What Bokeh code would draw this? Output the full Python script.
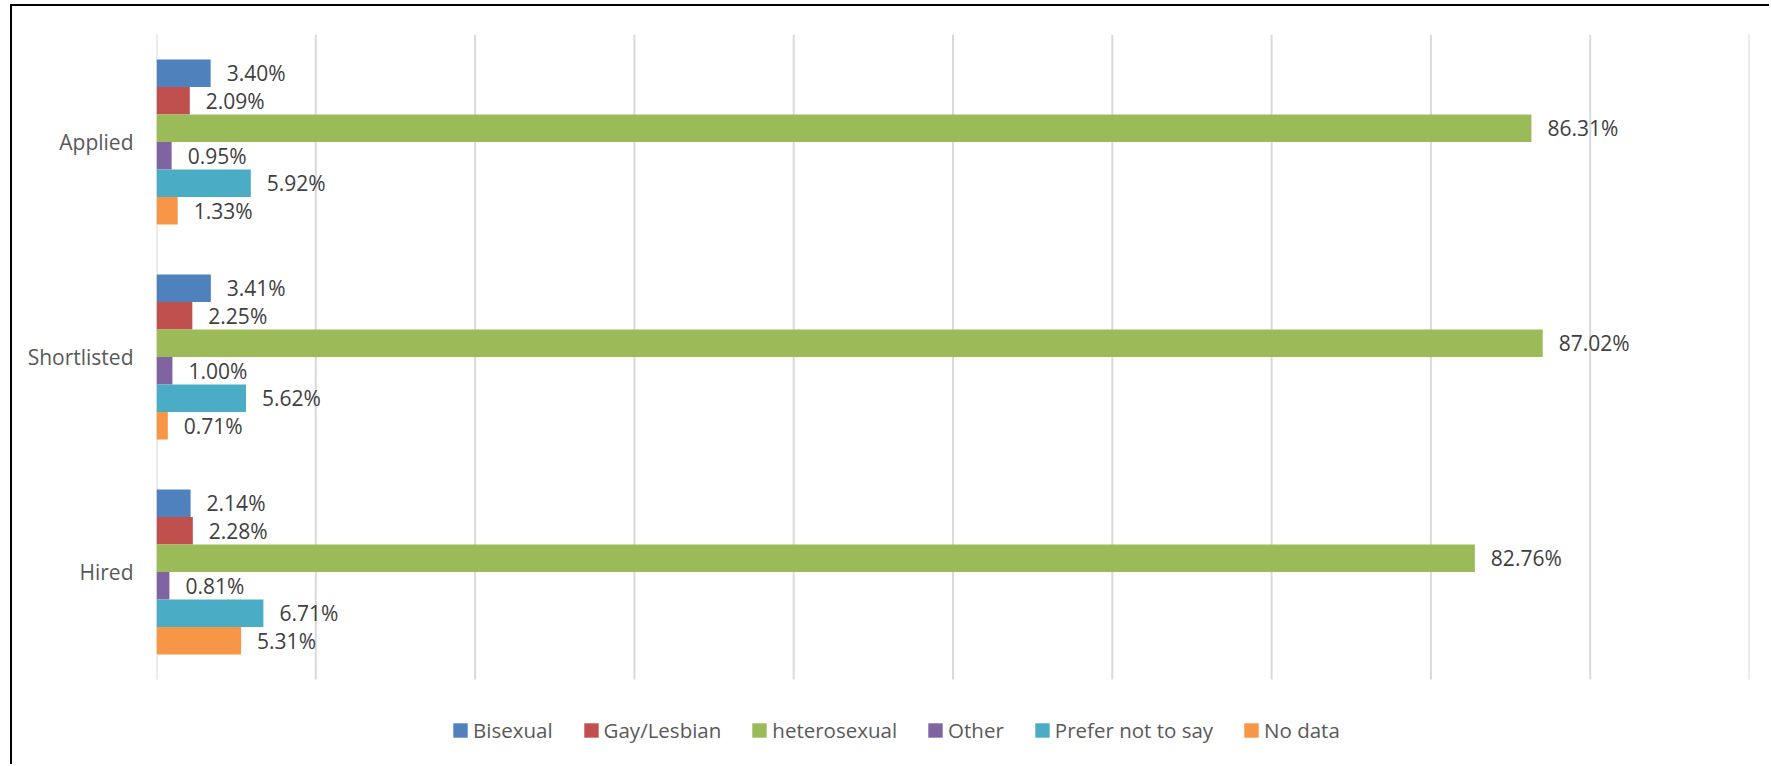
from bokeh.plotting import figure
from bokeh.models import Range1d, FixedTicker, Legend, LegendItem, ColumnDataSource
from bokeh.embed import file_html
from bokeh.resources import INLINE
from bokeh.core.properties import value

# ---- data ----
stages = ["Applied", "Shortlisted", "Hired"]
series_names = ["Bisexual", "Gay/Lesbian", "heterosexual", "Other", "Prefer not to say", "No data"]
bisexual = [3.40, 3.41, 2.14]
gay_lesbian = [2.09, 2.25, 2.28]
heterosexual = [86.31, 87.02, 82.76]
other = [0.95, 1.00, 0.81]
prefer_not_to_say = [5.92, 5.62, 6.71]
no_data = [1.33, 0.71, 5.31]
grid_ticks = [0, 10, 20, 30, 40, 50, 60, 70, 80, 90, 100]

series_values = [bisexual, gay_lesbian, heterosexual, other, prefer_not_to_say, no_data]
colors = ["#4F81BD", "#C0504D", "#9BBB59", "#8064A2", "#4BACC6", "#F79646"]

FONT = "Open Sans"
n = len(stages)
# category centres: first stage at top
centres = [n - 0.5 - k for k in range(n)]

p = figure(
    width=1759, height=760,
    y_range=Range1d(-0.4047, n),
    x_range=Range1d(0, 100),
    output_backend="svg", toolbar_location=None,
    min_border_left=144, min_border_right=22, min_border_top=28, min_border_bottom=0,
)
p.margin = (4, 0, 0, 10)
p.styles = {"border-top": "2px solid #000000", "border-left": "2px solid #000000"}
p.outline_line_color = None
p.background_fill_color = "white"
p.border_fill_color = "white"

p.xaxis.visible = False
p.xgrid.visible = False
p.ygrid.visible = False

# vertical gridlines spanning the category area
p.segment(x0=grid_ticks, y0=[0] * len(grid_ticks), x1=grid_ticks, y1=[n] * len(grid_ticks),
          line_color="#D9D9D9", line_width=2)

p.yaxis.ticker = FixedTicker(ticks=centres)
p.yaxis.major_label_overrides = {c: s for c, s in zip(centres, stages)}
p.yaxis.axis_line_color = None
p.yaxis.major_tick_line_color = None
p.yaxis.minor_tick_line_color = None
p.yaxis.major_tick_out = 0
p.yaxis.major_tick_in = 0
p.yaxis.minor_tick_out = 0
p.yaxis.major_label_standoff = 23
p.yaxis.major_label_text_font = FONT
p.yaxis.major_label_text_font_size = "21px"
p.yaxis.major_label_text_color = "#595959"

bar_h = 27.5 / 215.0
items = []
for i, (name, vals, col) in enumerate(zip(series_names, series_values, colors)):
    off = (2.5 - i) * bar_h
    ys = [c + off for c in centres]
    src = ColumnDataSource(dict(y=ys, val=vals, lab=[f"{v:.2f}%" for v in vals]))
    r = p.hbar(y="y", left=0, right="val", height=bar_h,
               fill_color=col, line_color=None, source=src)
    p.text(x="val", y="y", text="lab", source=src,
           x_offset=16, text_align="left", text_baseline="middle",
           text_font=value(FONT), text_font_size="21px", text_color="#404040")
    items.append(LegendItem(label=name, renderers=[r]))

legend = Legend(items=items, orientation="horizontal", location=(295, 22),
                glyph_width=18, glyph_height=18, label_standoff=4, spacing=29,
                padding=0, margin=0, border_line_color=None, background_fill_alpha=0,
                label_text_font=FONT, label_text_font_size="20.5px", label_text_color="#595959",
                label_height=20)
p.add_layout(legend, "center")

open("out.html", "w").write(file_html(p, INLINE))
